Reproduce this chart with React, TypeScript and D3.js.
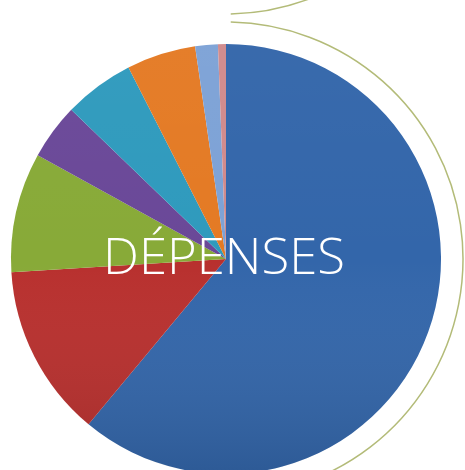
import * as d3 from "d3"

// expense shares, clockwise from 12 o'clock
const categories = ["A", "B", "C", "D", "E", "F", "G", "H"]
const shares = [61.1, 13.0, 9.0, 4.2, 5.3, 5.2, 1.7, 0.6]
const colors = ["#3366aa", "#b8302e", "#88aa38", "#6a4898", "#2f9abd", "#e47a24", "#7da2d6", "#d08a8c"]
const title = "DÉPENSES"

export default function App() {
  const width = 465
  const height = 470
  const cx = 226
  const cy = 259
  const r = 215

  const pie = d3
    .pie<number>()
    .sort(null)
    .value((d) => d)
  const arcs = pie(shares)
  const arc = d3.arc<d3.PieArcDatum<number>>().innerRadius(0).outerRadius(r)

  // decorative olive rings
  const ringR = 237
  const outerRing = d3.arc()({ innerRadius: ringR, outerRadius: ringR, startAngle: 0.02, endAngle: Math.PI * 0.9 }) as string
  const topRing = d3.arc()({ innerRadius: ringR, outerRadius: ringR, startAngle: Math.PI - 0.02, endAngle: Math.PI - 0.38 }) as string

  return (
    <div style={{ position: "fixed", left: 0, top: 0, width, height, overflow: "hidden", background: "#fff" }}>
      <svg width={width} height={height} style={{ display: "block" }}>
        <defs>
          <linearGradient id="shade" x1="0" y1="0" x2="0" y2="1">
            <stop offset="0" stopColor="#ffffff" stopOpacity={0.03} />
            <stop offset="0.5" stopColor="#ffffff" stopOpacity={0} />
            <stop offset="1" stopColor="#000000" stopOpacity={0.12} />
          </linearGradient>
        </defs>
        <g transform={`translate(${cx},${cy})`}>
          {arcs.map((a, i) => (
            <path key={categories[i]} d={arc(a) as string} fill={colors[i]} />
          ))}
          <circle r={r} fill="url(#shade)" />
          <path d={outerRing} fill="none" stroke="#b3bb78" strokeWidth={1.5} />
        </g>
        <g transform={`translate(${cx},${cy - 2 * 241})`}>
          <path d={topRing} fill="none" stroke="#b3bb78" strokeWidth={1.5} />
        </g>
        <text
          x={224}
          y={274}
          textAnchor="middle"
          fill="#ffffff"
          fontFamily="'Open Sans', 'Noto Sans', sans-serif"
          fontWeight={300}
          fontSize={50}
          textLength={242}
          lengthAdjust="spacingAndGlyphs"
        >
          {title}
        </text>
      </svg>
    </div>
  )
}
